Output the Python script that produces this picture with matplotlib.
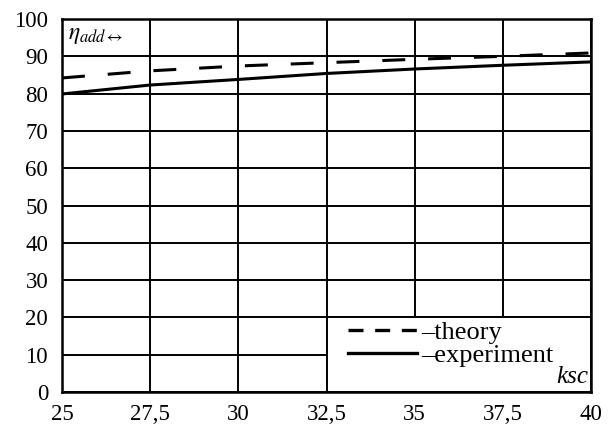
import matplotlib
matplotlib.use("Agg")
import matplotlib.pyplot as plt
from matplotlib.lines import Line2D
from matplotlib.patches import Rectangle

ksc = [25, 27.5, 30, 32.5, 35, 37.5, 40]
theory = [84.2, 86.1, 87.4, 88.3, 89.2, 90.0, 90.9]
experiment = [79.9, 82.3, 83.8, 85.4, 86.6, 87.6, 88.5]
xtick_labels = ["25", "27,5", "30", "32,5", "35", "37,5", "40"]
yticks = list(range(0, 101, 10))

plt.rcParams['font.family'] = 'Liberation Serif'
plt.rcParams['font.size'] = 16.5
plt.rcParams['mathtext.fontset'] = 'stix'

fig = plt.figure(figsize=(6.14, 4.32), dpi=100)
ax = fig.add_axes([0.101, 0.0926, 0.8616, 0.8634])

ax.plot(ksc, theory, color="black", linestyle=(0, (7.5, 7.5)), linewidth=2.2)
ax.plot(ksc, experiment, color="black", linestyle="-", linewidth=2.2)

ax.set_xlim(25, 40)
ax.set_ylim(0, 100)
ax.set_xticks(ksc, xtick_labels)
ax.set_yticks(yticks)
ax.tick_params(axis="y", length=0, pad=10)
ax.tick_params(axis="x", length=0, pad=9)
ax.grid(color="black", linewidth=1.4)
ax.set_axisbelow(True)
for s in ax.spines.values():
    s.set_linewidth(1.8)
    s.set_zorder(5)

# white area that holds the legend, bounded by the grid lines
ax.add_patch(Rectangle((32.5, 0), 7.5, 20, facecolor="white", edgecolor="black",
                       linewidth=1.4, zorder=1.5))

ax.text(0.012, 0.985, r"$\eta_{add\leftrightarrow}$", transform=ax.transAxes,
        ha="left", va="top", fontsize=17)
ax.text(0.995, 0.01, "ksc", transform=ax.transAxes, ha="right", va="bottom",
        fontsize=18, style="italic", zorder=6)

handles = [Line2D([], [], color="black", linestyle=(0, (4.5, 3.5)), linewidth=2.4),
           Line2D([], [], color="black", linestyle="-", linewidth=2.4)]
leg = ax.legend(handles, ["–theory", "–experiment"], loc="upper left",
                bbox_to_anchor=(0.531, 0.205), frameon=False,
                handlelength=2.6, handletextpad=0.15, labelspacing=-0.02,
                borderpad=0.2, borderaxespad=0, fontsize=19)
leg.set_zorder(6)

fig.savefig("out.png", dpi=100)
